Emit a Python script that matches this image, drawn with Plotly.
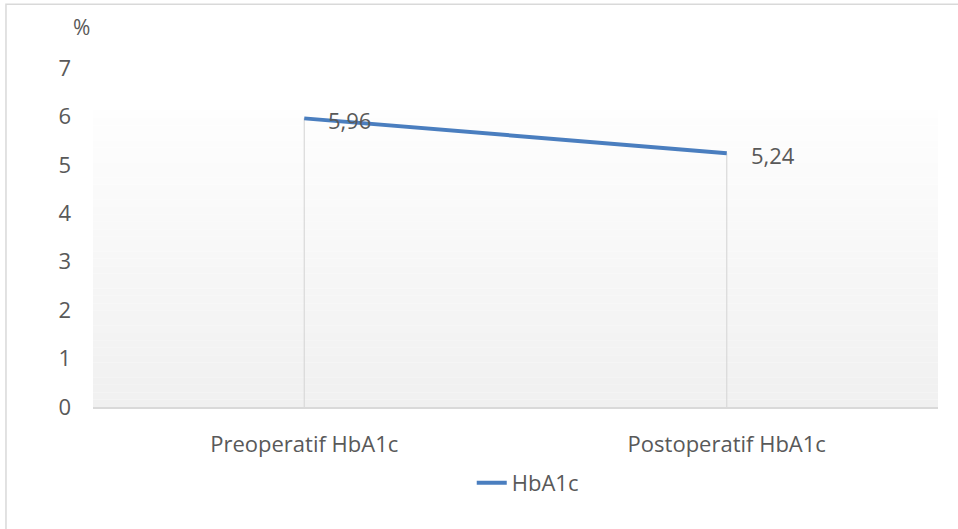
import plotly.graph_objects as go

categories = ["Preoperatif HbA1c", "Postoperatif HbA1c"]
values = [5.96, 5.24]
series_name = "HbA1c"
y_ticks = [0, 1, 2, 3, 4, 5, 6, 7]

FONT = "Open Sans"
TXT = "#595959"
LINE = "#4A7EBF"
FS = 22

fig = go.Figure()

# gradient-like plot background (style bands)
n = 40
top = 6.12
for i in range(n):
    y0 = top * i / n
    y1 = top * (i + 1) / n
    c = int(round(240 + (254 - 240) * (i + 0.5) / n))
    fig.add_shape(type="rect", xref="paper", yref="y", x0=0, x1=1, y0=y0, y1=y1,
                  fillcolor=f"rgb({c},{c},{c})", line=dict(width=0), layer="below")

# drop lines from each point to the axis
for c, v in zip(categories, values):
    fig.add_trace(go.Scatter(x=[c, c], y=[0, v], mode="lines",
                             line=dict(color="#D9D9D9", width=1.2),
                             showlegend=False, hoverinfo="skip"))

fig.add_trace(go.Scatter(x=categories, y=values, mode="lines", name=series_name,
                         line=dict(color=LINE, width=4)))

for c, v in zip(categories, values):
    fig.add_annotation(x=c, y=v, xref="x", yref="y", text=f"{v:.2f}".replace(".", ","),
                       showarrow=False, xanchor="left", yanchor="middle", xshift=22, yshift=-2,
                       font=dict(family=FONT, size=FS, color=TXT))

fig.add_annotation(x=-0.0, y=1.12, xref="paper", yref="paper", text="%", showarrow=False,
                   xanchor="right", yanchor="middle", xshift=-1,
                   font=dict(family=FONT, size=21, color=TXT))

# outer chart border
fig.add_shape(type="rect", xref="paper", yref="paper", x0=-0.103, x1=1.2, y0=-0.5, y1=1.188,
              line=dict(color="#D9D9D9", width=1.5), fillcolor="rgba(0,0,0,0)", layer="below")

fig.update_layout(
    width=958, height=529,
    margin=dict(l=93, r=20, t=67.5, b=121.5),
    paper_bgcolor="white", plot_bgcolor="white",
    font=dict(family=FONT, size=FS, color=TXT),
    showlegend=True,
    legend=dict(orientation="h", x=0.5145, xanchor="center", y=-0.224, yanchor="middle",
                font=dict(family=FONT, size=FS, color=TXT)),
    xaxis=dict(type="category", range=[-0.5, 1.5], showgrid=False, zeroline=False,
               showline=True, linecolor="#D9D9D9", linewidth=1.5,
               ticks="", ticklabelstandoff=17,
               tickfont=dict(family=FONT, size=FS, color=TXT)),
    yaxis=dict(range=[0, 7], tickvals=y_ticks, showgrid=False, zeroline=False,
               showline=False, ticks="", ticklabelstandoff=21,
               tickfont=dict(family=FONT, size=FS, color=TXT)),
)

fig.write_html("out.html", config={"displayModeBar": False},
               post_script="document.body.style.margin='0';document.body.style.padding='0';")
